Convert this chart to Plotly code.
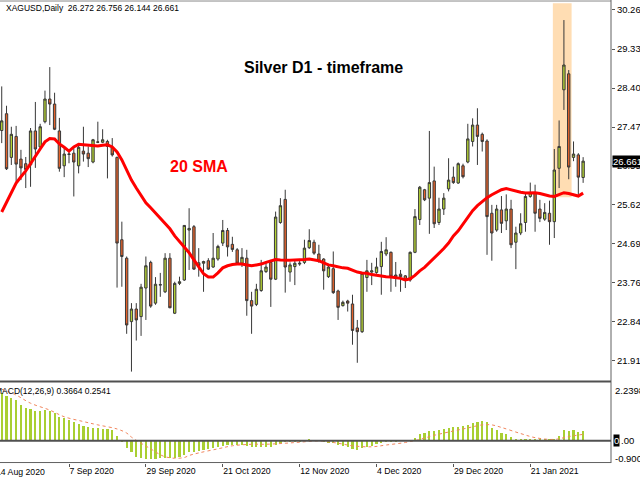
import pandas as pd
import plotly.graph_objects as go

# ---- categories: daily bars (XAGUSD, server days Mon-Fri, no Xmas / New Year bar)
dates = [d.strftime("%Y-%m-%d") for d in pd.bdate_range("2020-08-18", "2021-02-05")
         if d.strftime("%m-%d") not in ("12-25", "01-01")]

# ---- OHLC
opens = [27.39, 27.79, 26.75, 27.25, 26.71, 26.60, 26.57, 27.38, 27.00, 27.60,
         28.14, 28.02, 27.38, 26.55, 26.82, 26.85, 26.55, 26.90, 26.85, 26.64,
         27.12, 27.11, 27.13, 26.99, 26.75, 24.79, 24.35, 22.84, 23.14, 22.96,
         23.64, 24.25, 23.28, 23.71, 23.55, 24.35, 23.04, 23.75, 23.83, 25.02,
         25.10, 24.24, 24.23, 24.29, 24.14, 24.33, 24.71, 25.01, 24.68, 24.55,
         24.23, 24.35, 23.34, 23.25, 23.58, 24.03, 24.25, 23.85, 25.20, 25.75,
         24.02, 24.15, 24.21, 24.25, 24.60, 24.73, 24.45, 24.33, 23.91, 24.10,
         23.57, 23.22, 23.33, 23.26, 22.69, 22.60, 23.89, 24.02, 24.01, 24.15,
         24.45, 24.49, 23.95, 23.97, 23.93, 23.83, 24.49, 25.27, 25.98, 25.78,
         26.19, 25.20, 25.52, 26.00, 26.28, 26.14, 26.55, 26.64, 27.13, 27.52,
         27.30, 27.14, 25.42, 25.02, 25.50, 25.24, 25.52, 24.73, 24.95, 25.20,
         25.82, 25.90, 25.52, 25.28, 25.42, 25.22, 26.49, 28.36, 28.74, 26.75, 26.81, 26.272]
highs = [28.44, 27.98, 27.48, 27.50, 26.93, 26.76, 27.45, 28.07, 27.55, 28.34,
         28.90, 28.29, 27.69, 26.97, 26.89, 26.97, 27.09, 27.48, 27.01, 27.19,
         27.60, 27.42, 27.17, 27.21, 26.77, 25.22, 24.39, 23.28, 23.28, 23.74,
         24.39, 24.29, 23.90, 24.00, 24.47, 24.47, 23.79, 23.91, 25.14, 25.54,
         25.14, 24.59, 24.29, 24.35, 24.95, 24.67, 25.26, 25.07, 24.86, 24.59,
         24.59, 24.55, 23.55, 23.74, 24.31, 24.27, 24.31, 25.46, 25.78, 25.98,
         24.25, 24.31, 24.31, 24.79, 25.04, 24.79, 24.67, 24.35, 24.19, 24.51,
         23.60, 23.34, 23.36, 23.48, 22.88, 24.02, 24.31, 24.24, 24.36, 24.74,
         24.85, 24.51, 24.26, 24.07, 23.95, 24.51, 25.52, 26.07, 26.00, 27.38,
         26.53, 25.79, 25.90, 26.73, 26.53, 26.63, 26.60, 27.55, 27.68, 27.92,
         27.34, 27.18, 25.62, 25.62, 25.83, 25.87, 25.74, 25.10, 25.42, 25.90,
         26.15, 26.10, 25.74, 25.66, 25.72, 26.95, 27.63, 30.02, 28.83, 27.13, 26.85, 26.756]
lows = [27.09, 26.45, 26.57, 26.17, 26.21, 26.02, 26.05, 26.50, 26.95, 27.56,
        27.52, 27.40, 26.41, 26.28, 26.61, 25.82, 26.37, 26.65, 26.52, 26.61,
        27.09, 27.09, 26.25, 26.77, 23.65, 23.67, 22.55, 21.65, 22.39, 22.50,
        22.88, 23.17, 23.24, 23.43, 23.52, 23.16, 23.02, 23.71, 23.81, 24.07,
        24.07, 23.91, 23.55, 24.07, 24.12, 24.29, 24.64, 24.39, 24.50, 24.19,
        24.14, 22.98, 22.55, 23.21, 23.55, 24.00, 23.19, 23.83, 25.17, 23.53,
        23.79, 23.71, 24.17, 24.21, 24.57, 24.43, 24.24, 23.60, 23.88, 23.50,
        22.88, 23.20, 23.08, 22.29, 21.86, 22.57, 23.55, 23.71, 23.98, 23.48,
        24.40, 23.55, 23.67, 23.55, 23.64, 23.79, 24.47, 25.14, 25.71, 24.93,
        25.07, 25.14, 25.38, 25.94, 26.12, 26.12, 26.25, 26.61, 27.01, 26.57,
        26.89, 24.43, 24.29, 24.98, 24.95, 25.02, 24.59, 24.09, 24.90, 24.98,
        25.79, 24.98, 25.21, 25.24, 24.67, 24.83, 26.02, 27.88, 26.23, 26.66, 25.86, 26.144]
closes = [27.62, 26.48, 27.30, 26.59, 26.50, 26.46, 27.38, 26.95, 27.48, 28.14,
          28.02, 27.42, 26.49, 26.83, 26.83, 26.64, 26.99, 26.83, 26.72, 27.17,
          27.11, 27.17, 27.01, 26.81, 24.71, 24.39, 22.76, 23.14, 22.88, 23.66,
          24.17, 23.21, 23.73, 23.72, 24.35, 23.17, 23.75, 23.79, 25.13, 25.06,
          24.09, 24.17, 24.27, 24.09, 24.35, 24.63, 25.01, 24.62, 24.56, 24.23,
          24.37, 23.34, 23.21, 23.61, 24.05, 24.14, 23.85, 25.33, 25.60, 24.14,
          24.19, 24.23, 24.23, 24.59, 24.77, 24.47, 24.27, 24.05, 24.14, 23.53,
          23.18, 23.30, 23.28, 22.63, 22.60, 23.99, 24.05, 24.05, 24.14, 24.51,
          24.55, 23.92, 23.91, 23.91, 23.83, 24.49, 25.34, 26.04, 25.74, 26.15,
          25.17, 25.52, 25.78, 26.21, 26.15, 26.60, 26.29, 27.19, 27.52, 27.25,
          27.13, 25.34, 24.95, 25.52, 25.18, 25.52, 24.67, 24.95, 25.17, 25.82,
          25.91, 25.42, 25.30, 25.44, 25.22, 26.45, 27.01, 28.95, 26.52, 26.83, 26.28, 26.661]

# ---- 20 SMA as drawn on the chart
sma20 = [25.45, 25.67, 25.90, 26.14, 26.29, 26.43, 26.60, 26.76, 26.95, 27.12,
         27.20, 27.19, 27.07, 26.99, 26.90, 27.00, 27.06, 27.05, 27.04, 27.04,
         27.02, 27.04, 27.05, 27.00, 26.88, 26.69, 26.45, 26.21, 26.02, 25.83,
         25.67, 25.55, 25.43, 25.31, 25.19, 25.05, 24.88, 24.74, 24.60, 24.48,
         24.31, 24.14, 23.98, 23.90, 23.90, 24.00, 24.12, 24.17, 24.20, 24.21,
         24.21, 24.19, 24.17, 24.19, 24.21, 24.25, 24.29, 24.32, 24.31, 24.30,
         24.30, 24.31, 24.31, 24.32, 24.33, 24.31, 24.29, 24.24, 24.19, 24.17,
         24.14, 24.12, 24.11, 24.07, 24.02, 24.00, 23.99, 23.96, 23.94, 23.92,
         23.91, 23.90, 23.89, 23.87, 23.83, 23.86, 23.94, 24.05, 24.13, 24.24,
         24.35, 24.45, 24.58, 24.71, 24.88, 25.00, 25.17, 25.31, 25.48, 25.60,
         25.70, 25.79, 25.86, 25.93, 25.98, 26.01, 25.98, 25.94, 25.92, 25.90,
         25.91, 25.91, 25.89, 25.86, 25.83, 25.82, 25.87, 25.91, 25.89, 25.86, 25.83, 25.90]

# ---- MACD(12,26,9) histogram and signal
macd_main = [1.86, 1.76, 1.66, 1.60, 1.40, 1.29, 1.24, 1.18, 1.18, 1.20,
             1.16, 1.07, 0.94, 0.88, 0.81, 0.72, 0.64, 0.58, 0.53, 0.51,
             0.49, 0.46, 0.45, 0.42, 0.18, -0.04, -0.30, -0.46, -0.65, -0.69,
             -0.72, -0.73, -0.73, -0.69, -0.69, -0.69, -0.66, -0.64, -0.56, -0.46,
             -0.43, -0.40, -0.36, -0.34, -0.30, -0.24, -0.20, -0.17, -0.17, -0.17,
             -0.17, -0.21, -0.24, -0.25, -0.25, -0.25, -0.24, -0.17, -0.08, -0.05,
             -0.04, -0.03, -0.02, 0.01, 0.03, 0.02, 0.00, -0.04, -0.08, -0.10,
             -0.17, -0.21, -0.24, -0.33, -0.36, -0.27, -0.24, -0.20, -0.14, -0.10,
             -0.06, -0.04, -0.03, -0.01, -0.01, 0.00, 0.09, 0.25, 0.31, 0.38,
             0.38, 0.42, 0.46, 0.49, 0.52, 0.55, 0.58, 0.62, 0.71, 0.75,
             0.77, 0.75, 0.49, 0.42, 0.29, 0.25, 0.13, 0.03, 0.03, 0.07,
             0.07, 0.05, 0.03, 0.03, 0.05, 0.07, 0.18, 0.42, 0.38, 0.42, 0.35, 0.37]
signal_pos = [0, 3, 6, 10, 13, 17, 20, 24, 26, 27, 29, 31, 33, 34, 36, 38, 39, 41, 45,
              48, 52, 55, 59, 62, 66, 70, 73, 77, 80, 84, 87, 90, 94, 97, 100, 102,
              104, 108, 111, 115, 118, 121]
signal_vals = [2.02, 1.79, 1.47, 1.20, 0.94, 0.75, 0.62, 0.46, 0.30, 0.14, -0.10, -0.32,
               -0.55, -0.63, -0.69, -0.66, -0.58, -0.48, -0.32, -0.20, -0.14, -0.14,
               -0.10, -0.06, -0.01, -0.10, -0.20, -0.24, -0.17, -0.07, 0.05, 0.21,
               0.38, 0.50, 0.62, 0.62, 0.52, 0.28, 0.12, 0.05, 0.16, 0.25]

price_ticks = [30.26, 29.33, 28.40, 27.47, 26.55, 25.62, 24.69, 23.76, 22.84, 21.91]
date_ticks = ["2020-09-07", "2020-09-29", "2020-10-21", "2020-11-12",
              "2020-12-04", "2020-12-29", "2021-01-21"]
date_tick_text = [pd.Timestamp(d).strftime("%-d %b %Y") for d in date_ticks]
last_price = closes[-1]

FONT = "Liberation Sans, Arial, sans-serif"
XR = [-0.36, 126.8]

fig = go.Figure()
fig.add_trace(go.Candlestick(
    x=dates, open=opens, high=highs, low=lows, close=closes,
    increasing=dict(fillcolor="#B5D334", line=dict(color="#383838", width=1)),
    decreasing=dict(fillcolor="#E3622B", line=dict(color="#383838", width=1)),
    whiskerwidth=0, xaxis="x", yaxis="y", hoverinfo="skip"))
fig.add_trace(go.Scatter(x=dates, y=sma20, mode="lines",
                         line=dict(color="#FF0000", width=3),
                         xaxis="x", yaxis="y", hoverinfo="skip"))
fig.add_trace(go.Bar(x=dates, y=macd_main, marker=dict(color="#A9CF32", line=dict(width=0)),
                     width=0.45, xaxis="x2", yaxis="y2", hoverinfo="skip"))
fig.add_trace(go.Scatter(x=[dates[k] for k in signal_pos], y=signal_vals, mode="lines",
                         line=dict(color="#F2865E", width=1, dash="dot", shape="spline"),
                         xaxis="x2", yaxis="y2", hoverinfo="skip"))

shapes = [
    # highlighted spike area
    dict(type="rect", xref="x", yref="y", x0=114.7, x1=118.6, y0=25.80, y1=30.42,
         fillcolor="#FFDDB3", line=dict(width=0), layer="below"),
    # frame lines
    dict(type="line", xref="paper", yref="paper", x0=0, x1=1, y0=0.9978, y1=0.9978,
         line=dict(color="#8a8a8a", width=1)),
    dict(type="line", xref="paper", yref="paper", x0=1, x1=1, y0=0, y1=1,
         line=dict(color="#606060", width=1)),
    dict(type="line", xref="paper", yref="paper", x0=0, x1=1, y0=0.1760, y1=0.1760,
         line=dict(color="#505050", width=2)),
    dict(type="line", xref="paper", yref="paper", x0=0, x1=1, y0=0.001, y1=0.001,
         line=dict(color="#606060", width=1)),
    dict(type="line", xref="paper", yref="y2", x0=0, x1=1, y0=0, y1=0,
         line=dict(color="#505050", width=2)),
]

ann = [
    dict(text="XAGUSD,Daily  26.272 26.756 26.144 26.661", xref="paper", yref="paper",
         x=4 / 611, y=(463 - 8) / 463, xanchor="left", yanchor="middle", showarrow=False,
         font=dict(size=8.5, family=FONT, color="black")),
    dict(text="<b>Silver D1 - timeframe</b>", xref="paper", yref="paper",
         x=323 / 611, y=(463 - 67.5) / 463, xanchor="center", yanchor="middle", showarrow=False,
         font=dict(size=16, family=FONT, color="black")),
    dict(text="<b>20 SMA</b>", xref="paper", yref="paper",
         x=198.5 / 611, y=(463 - 166) / 463, xanchor="center", yanchor="middle", showarrow=False,
         font=dict(size=16, family=FONT, color="#FF0000")),
    dict(text="MACD(12,26,9) 0.3664 0.2541", xref="paper", yref="paper",
         x=-7 / 611, y=(463 - 391) / 463, xanchor="left", yanchor="middle", showarrow=False,
         font=dict(size=8.5, family=FONT, color="black")),
    dict(text="%.3f" % last_price, xref="paper", yref="y", x=1 + 1.5 / 611, y=last_price,
         xanchor="left", yanchor="middle", showarrow=False, bgcolor="black", borderpad=0,
         font=dict(size=9.5, family=FONT, color="white")),
    dict(text="2.2398", xref="paper", yref="paper", x=1 + 2 / 611, y=(463 - 390) / 463,
         xanchor="left", yanchor="middle", showarrow=False,
         font=dict(size=9.5, family=FONT, color="black")),
    dict(text="-0.9003", xref="paper", yref="paper", x=1 + 2 / 611, y=(463 - 458) / 463,
         xanchor="left", yanchor="middle", showarrow=False,
         font=dict(size=9.5, family=FONT, color="black")),
    dict(text="0", xref="paper", yref="y2", x=1 + 2 / 611, y=0,
         xanchor="left", yanchor="middle", showarrow=False, bgcolor="black", borderpad=0,
         font=dict(size=9.5, family=FONT, color="white")),
    dict(text=".00", xref="paper", yref="y2", x=1 + 7.5 / 611, y=0,
         xanchor="left", yanchor="middle", showarrow=False,
         font=dict(size=9.5, family=FONT, color="black")),
    dict(text="14 Aug 2020", xref="paper", yref="paper", x=-6.5 / 611, y=-9 / 463,
         xanchor="left", yanchor="middle", showarrow=False,
         font=dict(size=8.7, family=FONT, color="black")),
]

fig.update_layout(
    width=640, height=480, margin=dict(l=0, r=29, t=0, b=17, autoexpand=False),
    paper_bgcolor="white", plot_bgcolor="white", showlegend=False,
    font=dict(family=FONT, size=9, color="black"),
    shapes=shapes, annotations=ann,
    xaxis=dict(domain=[0, 1], anchor="y", type="category", range=XR, automargin=False,
               showticklabels=False, ticks="", showgrid=False, zeroline=False,
               rangeslider=dict(visible=False), fixedrange=True),
    yaxis=dict(domain=[0.17927, 0.99568], anchor="x", side="right", range=[21.45, 30.45],
               automargin=False,
               tickvals=price_ticks, ticktext=["%.3f" % v for v in price_ticks],
               ticks="outside", ticklen=3, tickcolor="#555", tickfont=dict(size=9.5),
               showgrid=False, zeroline=False, showline=False),
    xaxis2=dict(domain=[0, 1], anchor="y2", type="category", range=XR, automargin=False,
                tickvals=date_ticks, ticktext=date_tick_text, ticks="outside", ticklen=3,
                tickcolor="#555", ticklabelposition="outside right",
                tickfont=dict(size=8.7), showgrid=False, zeroline=False, showline=False),
    yaxis2=dict(domain=[0, 0.17279], anchor="x2", side="right", range=[-0.875, 2.263],
                automargin=False,
                showticklabels=False, ticks="", showgrid=False, zeroline=False),
    bargap=0,
)

fig.write_html("out.html", config={"displayModeBar": False},
               post_script="document.body.style.margin='0px';document.body.style.overflow='hidden';")
